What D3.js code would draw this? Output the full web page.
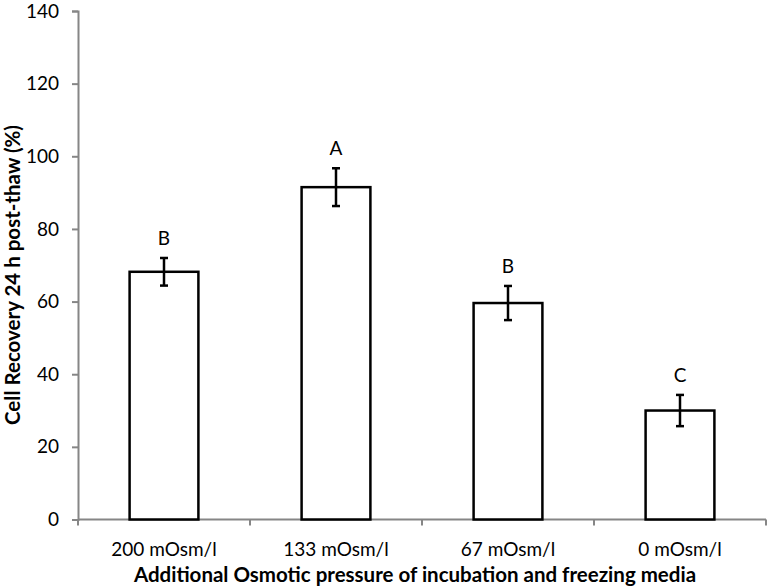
<!DOCTYPE html>
<html><head><meta charset="utf-8">
<script src="https://cdn.jsdelivr.net/npm/d3@7"></script>
<style>body{margin:0;background:#fff;} text{font-family:Lato,"Open Sans",sans-serif;}</style>
</head><body><svg id="c" width="768" height="587"></svg>
<script>
const categories = ["200 mOsm/l", "133 mOsm/l", "67 mOsm/l", "0 mOsm/l"];
const values = [68.2, 91.5, 59.6, 30.0];
const errors = [3.8, 5.2, 4.7, 4.3];
const letters = ["B", "A", "B", "C"];
const yTicks = [0, 20, 40, 60, 80, 100, 120, 140];

(function () {
const svg = d3.select("#c");
const mLeft = 78, mRight = 766, mTop = 11, mBottom = 519.5;
const x = d3.scaleBand().domain(categories).range([mLeft, mRight]).paddingInner(0.6).paddingOuter(0.3);
const y = d3.scaleLinear().domain([0, 140]).range([mBottom, mTop]);
const axisColor = "#868686";
const fs = 19;

// y axis
const ya = svg.append("g").attr("transform", `translate(${mLeft},0)`)
  .call(d3.axisLeft(y).tickValues(yTicks).tickSize(6).tickPadding(13));
ya.select(".domain").attr("stroke", axisColor).attr("stroke-width", 2);
ya.selectAll(".tick line").attr("stroke", axisColor).attr("stroke-width", 2);
ya.selectAll(".tick text").attr("font-size", fs).attr("fill", "#000").style("font-family", "Lato");

// x axis: ticks at band boundaries
const xa = svg.append("g").attr("transform", `translate(0,${mBottom})`);
xa.append("line").attr("x1", mLeft).attr("x2", mRight).attr("stroke", axisColor).attr("stroke-width", 2);
const bounds = d3.range(categories.length + 1).map(i => mLeft + i * x.step());
xa.selectAll("line.tk").data(bounds).join("line").attr("class", "tk")
  .attr("x1", d => d).attr("x2", d => d).attr("y1", 0).attr("y2", 6)
  .attr("stroke", axisColor).attr("stroke-width", 2);
xa.selectAll("text.lbl").data(categories).join("text").attr("class", "lbl")
  .attr("x", d => x(d) + x.bandwidth() / 2).attr("y", 36)
  .attr("text-anchor", "middle").attr("font-size", fs).text(d => d);

// bars
svg.selectAll("rect.bar").data(values).join("rect").attr("class", "bar")
  .attr("x", (d, i) => x(categories[i])).attr("width", x.bandwidth())
  .attr("y", d => y(d)).attr("height", d => y(0) - y(d))
  .attr("fill", "#fff").attr("stroke", "#000").attr("stroke-width", 2.5);

// error bars
const eg = svg.append("g").attr("stroke", "#000").attr("stroke-width", 2.5);
values.forEach((v, i) => {
  const cx = x(categories[i]) + x.bandwidth() / 2;
  eg.append("line").attr("x1", cx).attr("x2", cx).attr("y1", y(v + errors[i])).attr("y2", y(v - errors[i]));
  eg.append("line").attr("x1", cx - 4).attr("x2", cx + 4).attr("y1", y(v + errors[i])).attr("y2", y(v + errors[i]));
  eg.append("line").attr("x1", cx - 4).attr("x2", cx + 4).attr("y1", y(v - errors[i])).attr("y2", y(v - errors[i]));
});

// letters
svg.selectAll("text.let").data(letters).join("text").attr("class", "let")
  .attr("x", (d, i) => x(categories[i]) + x.bandwidth() / 2)
  .attr("y", (d, i) => y(values[i] + errors[i]) - 13)
  .attr("text-anchor", "middle").attr("font-size", fs).text(d => d);

// axis titles
svg.append("text").attr("x", 415).attr("y", 582)
  .attr("text-anchor", "middle").attr("font-size", 20.5).attr("font-weight", "bold")
  .text("Additional Osmotic pressure of incubation and freezing media");
svg.append("text").attr("transform", `translate(20,275) rotate(-90)`)
  .attr("text-anchor", "middle").attr("font-size", 20.5).attr("font-weight", "bold")
  .text("Cell Recovery 24 h post-thaw (%)");
})();
</script></body></html>
